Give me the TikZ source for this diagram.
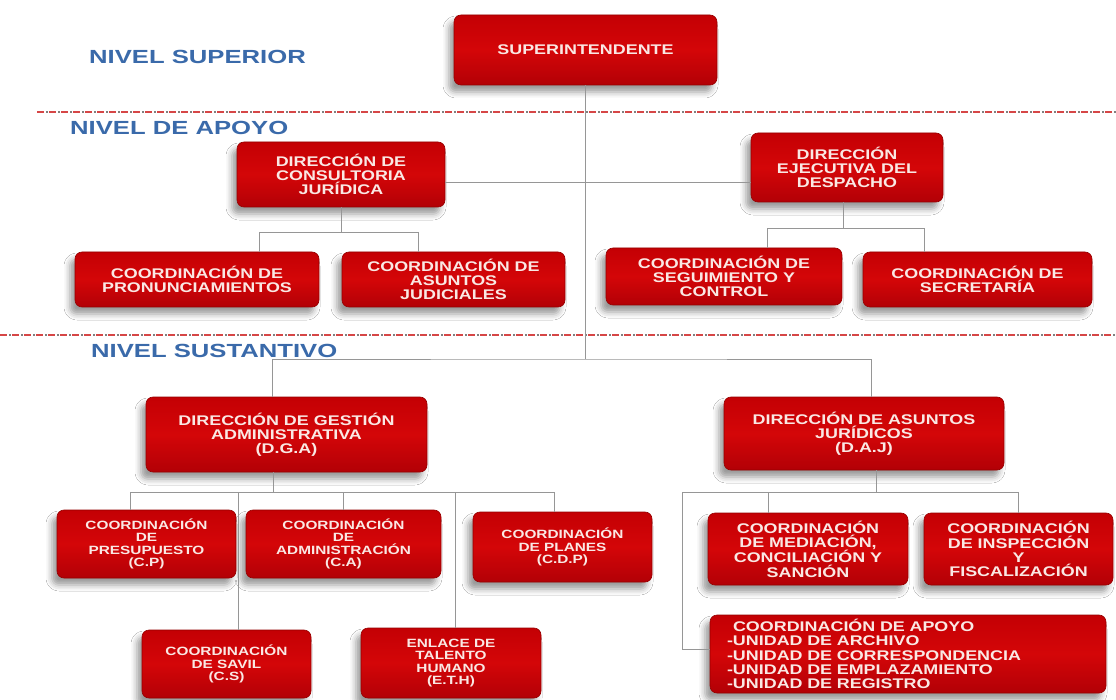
\documentclass[tikz,border=0pt]{standalone}
\usepackage{fontspec}
\setmainfont{Liberation Sans}
\newfontfamily\boxfont{Liberation Sans}[FakeStretch=1.28]
\newfontfamily\nivelfont{Liberation Sans}[FakeStretch=1.35]
\usetikzlibrary{positioning,calc,shadows.blur}

\definecolor{cajared}{RGB}{212,6,8}
\definecolor{cajatop}{RGB}{196,0,4}
\definecolor{cajabot}{RGB}{178,0,6}
\definecolor{cajaborde}{RGB}{150,0,0}
\definecolor{cajatexto}{RGB}{250,232,228}
\definecolor{nivelazul}{RGB}{58,106,170}
\definecolor{lineagris}{RGB}{150,150,150}
\definecolor{corterojo}{RGB}{214,70,70}

\tikzset{
  unidad/.style={draw=cajaborde, line width=0.6pt, rounded corners=7pt,
    top color=cajatop, bottom color=cajabot, middle color=cajared,
    blur shadow={shadow xshift=-5pt, shadow yshift=-7pt, shadow blur radius=6pt, shadow opacity=40},
    text=cajatexto, align=center, inner sep=2pt,
    font=\boxfont\bfseries\fontsize{14}{14.2}\selectfont},
  chica/.style={unidad, font=\boxfont\bfseries\fontsize{12}{12.4}\selectfont},
  nivel/.style={anchor=west, text=nivelazul, inner sep=0pt,
    font=\nivelfont\bfseries\fontsize{19}{20}\selectfont},
  link/.style={draw=lineagris, line width=0.9pt},
  corte/.style={draw=corterojo, line width=1.1pt, dash pattern=on 7pt off 5pt},
  cortepunto/.style={draw=gray, line width=1.1pt, dash pattern=on 1.5pt off 10.5pt, dash phase=3pt}
}

\begin{document}
\begin{tikzpicture}[x=1pt, y=-1pt]
  \fill[white] (0,0) rectangle (1116,700);
  \useasboundingbox (0,0) rectangle (1116,700);

  % levels
  \node[nivel] (nsup) at (89,57) {NIVEL SUPERIOR};
  \node[nivel] (napo) at (70,128) {NIVEL DE APOYO};
  \node[nivel] (nsus) at (91,351) {NIVEL SUSTANTIVO};
  \coordinate (corte1a) at (37,112);
  \coordinate (corte1b) at (1116,112);
  \coordinate (corte2a) at (0,335);
  \coordinate (corte2b) at (1116,335);
  \draw[corte] (corte1a) -- (corte1b);
  \draw[cortepunto] (corte1a) -- (corte1b);
  \draw[corte] (corte2a) -- (corte2b);
  \draw[cortepunto] (corte2a) -- (corte2b);

  % top
  \node[unidad, minimum width=263, minimum height=70] (sup) at (585.5,50) {SUPERINTENDENTE};

  % support
  \node[unidad, minimum width=208, minimum height=65] (cj) at (341,174.5)
    {DIRECCIÓN DE\\CONSULTORIA\\JURÍDICA};
  \node[unidad, minimum width=192, minimum height=69] (dej) at (847,167.5)
    {DIRECCIÓN\\EJECUTIVA DEL\\DESPACHO};
  \node[unidad, minimum width=244, minimum height=55] (pron) at (197,279.5)
    {COORDINACIÓN DE\\PRONUNCIAMIENTOS};
  \node[unidad, minimum width=223, minimum height=55] (ajud) at (453.5,279.5)
    {COORDINACIÓN DE\\ASUNTOS\\JUDICIALES};
  \node[unidad, minimum width=236, minimum height=57] (seg) at (724,276.5)
    {COORDINACIÓN DE\\SEGUIMIENTO Y\\CONTROL};
  \node[unidad, minimum width=229, minimum height=55] (secr) at (977.5,279.5)
    {COORDINACIÓN DE\\SECRETARÍA};

  % substantive
  \node[unidad, minimum width=281, minimum height=75] (dga) at (286.5,434.5)
    {DIRECCIÓN DE GESTIÓN\\ADMINISTRATIVA\\(D.G.A)};
  \node[unidad, minimum width=280, minimum height=73] (daj) at (864,433.5)
    {DIRECCIÓN DE ASUNTOS\\JURÍDICOS\\(D.A.J)};
  \node[chica, minimum width=179, minimum height=68] (cp) at (146.5,544)
    {COORDINACIÓN\\DE\\PRESUPUESTO\\(C.P)};
  \node[chica, minimum width=195, minimum height=68] (ca) at (343.5,544)
    {COORDINACIÓN\\DE\\ADMINISTRACIÓN\\(C.A)};
  \node[chica, minimum width=179, minimum height=70] (cdp) at (562.5,547)
    {COORDINACIÓN\\DE PLANES\\(C.D.P)};
  \node[chica, minimum width=169, minimum height=68] (cs) at (226.5,664)
    {COORDINACIÓN\\DE SAVIL\\(C.S)};
  \node[chica, minimum width=180, minimum height=70] (eth) at (451,663)
    {ENLACE DE\\TALENTO\\HUMANO\\(E.T.H)};
  \node[unidad, minimum width=200, minimum height=72] (cmcs) at (808,549)
    {COORDINACIÓN\\DE MEDIACIÓN,\\CONCILIACIÓN Y\\SANCIÓN};
  \node[unidad, minimum width=189, minimum height=72] (cif) at (1018.5,549)
    {COORDINACIÓN\\DE INSPECCIÓN\\Y\\FISCALIZACIÓN};
  \node[unidad, minimum width=396, minimum height=78, text width=362, align=left] (coapoyo) at (908,654)
    {\hspace*{6pt}COORDINACIÓN DE APOYO\\-UNIDAD DE ARCHIVO\\-UNIDAD DE CORRESPONDENCIA\\-UNIDAD DE EMPLAZAMIENTO\\-UNIDAD DE REGISTRO};

  % connectors
  \coordinate (apoyolink) at (585.5,182);
  \coordinate (sust) at (585.5,359);
  \draw[link] (sup.south) -- (sust);
  \draw[link] (cj.east |- apoyolink) -- (dej.west |- apoyolink);
  \draw[link] ([xshift=-14pt]dga.north) |- (sust) -| ([xshift=7pt]daj.north);

  \draw[link] (cj.south) -- ++(0,25) coordinate (cjbar);
  \draw[link] ([xshift=62pt]pron.north) |- (cjbar) -| ([xshift=-35.5pt]ajud.north);
  \draw[link] ([xshift=-4pt]dej.south) -- ++(0,26) coordinate (dejbar);
  \draw[link] ([xshift=43pt]seg.north) |- (dejbar) -| ([xshift=-53.5pt]secr.north);

  \draw[link] ([xshift=-13.5pt]dga.south) -- ++(0,20) coordinate (dgabar);
  \draw[link] ([xshift=-16.5pt]cp.north) |- (dgabar) -| ([xshift=-8.5pt]cdp.north);
  \draw[link] (ca.north) -- (ca.north |- dgabar);
  \draw[link] ([xshift=11.5pt]cs.north) -- ([xshift=11.5pt]cs.north |- dgabar);
  \draw[link] ([xshift=4pt]eth.north) -- ([xshift=4pt]eth.north |- dgabar);

  \draw[link] ([xshift=12pt]daj.south) -- ++(0,22) coordinate (dajbar);
  \coordinate (dajleft) at (682,492);
  \draw[link] ([yshift=5pt]coapoyo.west) -| (dajleft) -- (dajleft -| cif.north) -- (cif.north);
  \draw[link] ([xshift=-40pt]cmcs.north) -- ([xshift=-40pt]cmcs.north |- dajleft);
\end{tikzpicture}
\end{document}
